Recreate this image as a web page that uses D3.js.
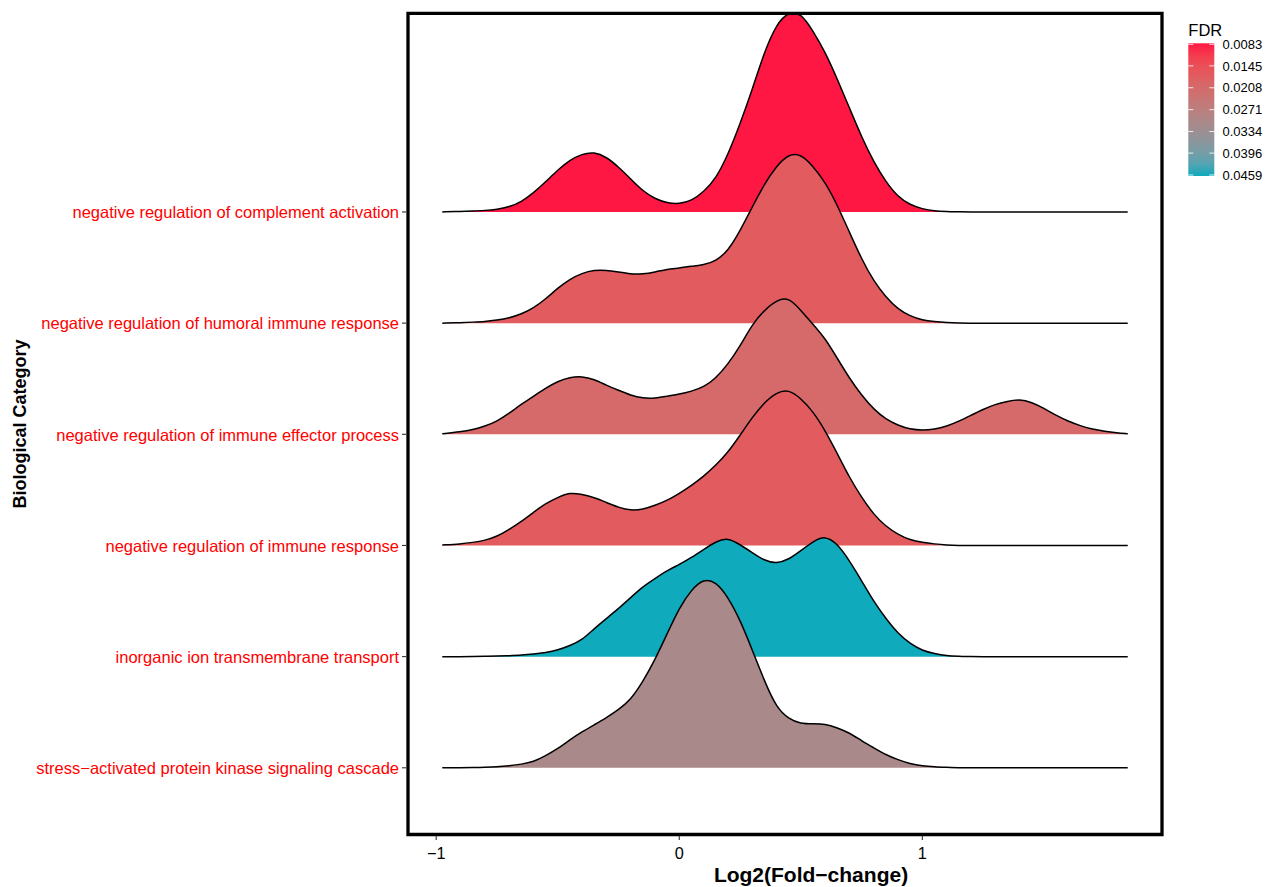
<!doctype html>
<html>
<head>
<meta charset="utf-8">
<script src="https://cdnjs.cloudflare.com/ajax/libs/d3/7.8.5/d3.min.js"></script>
<style>
  body { margin: 0; background: #fff; }
  svg text { font-family: "Liberation Sans", Arial, Helvetica, sans-serif; }
  path.ridge-line { fill: none; stroke: #000; stroke-width: 1.5; }
  path.panel { fill: none; stroke: #000; stroke-width: 3.3; }
  line.tick { stroke: #333; stroke-width: 1.1; }
  text.y-label { fill: #ff0000; font-size: 16.5px; text-anchor: end; }
  text.x-label { fill: #000; font-size: 16.3px; text-anchor: middle; }
  text.axis-title { fill: #000; font-weight: bold; text-anchor: middle; }
  text.legend-label { fill: #000; font-size: 13px; }
  line.legend-tick { stroke: #fff; stroke-opacity: 0.85; stroke-width: 1; }
</style>
</head>
<body>
<svg id="chart" width="1266" height="887"></svg>
<script>
// categories, top to bottom
var categories = [
  "negative regulation of complement activation",
  "negative regulation of humoral immune response",
  "negative regulation of immune effector process",
  "negative regulation of immune response",
  "inorganic ion transmembrane transport",
  "stress\u2212activated protein kinase signaling cascade"
];
var fdr = [0.0083, 0.0170, 0.0205, 0.0172, 0.0459, 0.0309];

var fdrBreaks = [0.0083, 0.0145, 0.0208, 0.0271, 0.0334, 0.0396, 0.0459];
var xTicks = [-1, 0, 1];

// log2 fold-change grid the densities were read at
var fcGrid = [-0.975, -0.9, -0.85, -0.8, -0.75, -0.7, -0.65, -0.6, -0.55, -0.5,
  -0.45, -0.4, -0.35, -0.3, -0.25, -0.2, -0.15, -0.1, -0.05, 0,
  0.05, 0.1, 0.15, 0.2, 0.25, 0.3, 0.35, 0.4, 0.45, 0.5,
  0.55, 0.6, 0.65, 0.7, 0.75, 0.8, 0.85, 0.9, 0.95, 1.0,
  1.05, 1.1, 1.15, 1.2, 1.25, 1.3, 1.35, 1.4, 1.45, 1.5,
  1.55, 1.6, 1.65, 1.7, 1.75, 1.8, 1.845];

var densComplement = [0, 0.005, 0.01, 0.015, 0.025, 0.05, 0.10, 0.19, 0.30, 0.42,
  0.52, 0.58, 0.60, 0.55, 0.45, 0.33, 0.21, 0.13, 0.09, 0.08,
  0.11, 0.20, 0.33, 0.57, 0.88, 1.22, 1.60, 1.88, 2.00, 1.99,
  1.81, 1.60, 1.33, 1.04, 0.75, 0.50, 0.30, 0.15, 0.07, 0.03,
  0.01, 0.005, 0, 0, 0, 0, 0, 0, 0, 0,
  0, 0, 0, 0, 0, 0, 0];
var densHumoral = [0, 0.005, 0.01, 0.015, 0.03, 0.05, 0.09, 0.15, 0.24, 0.35,
  0.44, 0.50, 0.53, 0.53, 0.51, 0.49, 0.49, 0.51, 0.54, 0.55,
  0.57, 0.58, 0.62, 0.72, 0.92, 1.16, 1.39, 1.57, 1.69, 1.69,
  1.57, 1.41, 1.18, 0.91, 0.64, 0.42, 0.26, 0.14, 0.07, 0.03,
  0.015, 0.005, 0, 0, 0, 0, 0, 0, 0, 0,
  0, 0, 0, 0, 0, 0, 0];
var densEffector = [0.005, 0.025, 0.045, 0.08, 0.13, 0.21, 0.30, 0.38, 0.46, 0.53,
  0.57, 0.58, 0.55, 0.49, 0.44, 0.39, 0.36, 0.36, 0.38, 0.40,
  0.43, 0.47, 0.56, 0.70, 0.88, 1.10, 1.24, 1.34, 1.37, 1.24,
  1.10, 0.96, 0.76, 0.56, 0.39, 0.25, 0.15, 0.09, 0.05, 0.04,
  0.05, 0.08, 0.13, 0.19, 0.25, 0.30, 0.33, 0.35, 0.32, 0.26,
  0.19, 0.13, 0.085, 0.05, 0.03, 0.015, 0.005];
var densImmune = [0.005, 0.015, 0.03, 0.05, 0.09, 0.16, 0.24, 0.33, 0.42, 0.48,
  0.53, 0.51, 0.48, 0.43, 0.38, 0.35, 0.36, 0.40, 0.45, 0.52,
  0.60, 0.69, 0.80, 0.93, 1.10, 1.28, 1.43, 1.53, 1.56, 1.47,
  1.34, 1.15, 0.92, 0.68, 0.48, 0.31, 0.19, 0.11, 0.055, 0.03,
  0.015, 0.005, 0, 0, 0, 0, 0, 0, 0, 0,
  0, 0, 0, 0, 0, 0, 0];
var densIon = [0, 0, 0, 0.003, 0.005, 0.01, 0.015, 0.025, 0.04, 0.065,
  0.11, 0.165, 0.28, 0.38, 0.48, 0.59, 0.70, 0.78, 0.86, 0.92,
  0.99, 1.07, 1.15, 1.19, 1.12, 1.04, 0.96, 0.93, 0.97, 1.06,
  1.15, 1.21, 1.13, 0.96, 0.76, 0.55, 0.38, 0.23, 0.13, 0.06,
  0.03, 0.01, 0.005, 0, 0, 0, 0, 0, 0, 0,
  0, 0, 0, 0, 0, 0, 0];
var densStress = [0, 0, 0.003, 0.005, 0.01, 0.02, 0.035, 0.06, 0.12, 0.19,
  0.28, 0.36, 0.43, 0.50, 0.58, 0.68, 0.86, 1.08, 1.34, 1.60,
  1.78, 1.89, 1.86, 1.71, 1.48, 1.18, 0.87, 0.60, 0.49, 0.44,
  0.44, 0.44, 0.40, 0.35, 0.27, 0.20, 0.13, 0.08, 0.04, 0.02,
  0.01, 0.005, 0, 0, 0, 0, 0, 0, 0, 0,
  0, 0, 0, 0, 0, 0, 0];

var densities = [densComplement, densHumoral, densEffector, densImmune, densIon, densStress];

var svg = d3.select("#chart");
var panel = {left: 408, right: 1162, top: 13.3, bottom: 834.5};

var x = d3.scaleLinear().domain([-1.116, 1.986]).range([panel.left, panel.right]);
// discrete rows sit at 1..n from the bottom, ggplot-style 0.6 expansion below
var y = d3.scaleLinear().domain([0.4, 7.787]).range([panel.bottom, panel.top]);
var rowStep = y(1) - y(2);
var heightScale = d3.scaleLinear().domain([0, 1]).range([0, rowStep * 0.9]);

var lowColor = "#FF1744", highColor = "#10AABD";
var fill = d3.scaleLinear()
  .domain([d3.min(fdrBreaks), d3.max(fdrBreaks)])
  .range([lowColor, highColor])
  .interpolate(d3.interpolateLab);

function baseY(i) { return y(categories.length - i); }

// ridges, top row first so lower rows overlap it
var ridges = svg.append("g");
categories.forEach(function(cat, i) {
  var pts = fcGrid.map(function(v, k) { return [v, densities[i][k]]; });
  var b = baseY(i);
  var area = d3.area()
    .x(function(d) { return x(d[0]); })
    .y0(b)
    .y1(function(d) { return b - heightScale(d[1]); })
    .curve(d3.curveBasis);
  var line = d3.line()
    .x(function(d) { return x(d[0]); })
    .y(function(d) { return b - heightScale(d[1]); })
    .curve(d3.curveBasis);
  ridges.append("path").attr("d", area(pts)).attr("fill", fill(fdr[i]));
  ridges.append("path").attr("class", "ridge-line").attr("d", line(pts));
});

// panel border
svg.append("path").attr("class", "panel")
  .attr("d", "M" + panel.left + "," + panel.top + "H" + panel.right + "V" + panel.bottom + "H" + panel.left + "Z");

// y axis
var yAxis = svg.append("g");
categories.forEach(function(cat, i) {
  var b = baseY(i);
  yAxis.append("line").attr("class", "tick")
    .attr("x1", panel.left - 6).attr("x2", panel.left - 1.6).attr("y1", b).attr("y2", b);
  yAxis.append("text").attr("class", "y-label")
    .attr("x", 399).attr("y", b).attr("dy", "0.38em").text(cat);
});

// x axis
var xAxis = svg.append("g");
xTicks.forEach(function(t) {
  xAxis.append("line").attr("class", "tick")
    .attr("x1", x(t)).attr("x2", x(t)).attr("y1", panel.bottom + 1.6).attr("y2", panel.bottom + 5.5);
  xAxis.append("text").attr("class", "x-label")
    .attr("x", x(t)).attr("y", 859).text(t < 0 ? "\u2212" + Math.abs(t) : t);
});

svg.append("text").attr("class", "axis-title")
  .attr("x", 811).attr("y", 882)
  .style("font-size", "21px").text("Log2(Fold\u2212change)");

svg.append("text").attr("class", "axis-title")
  .attr("transform", "translate(26," + (panel.top + panel.bottom) / 2 + ") rotate(-90)")
  .style("font-size", "18px").text("Biological Category");

// legend
var leg = {x: 1188.3, top: 43.3, w: 26, h: 132.7};
var grad = svg.append("defs").append("linearGradient")
  .attr("id", "fdrGrad").attr("x1", 0).attr("y1", 0).attr("x2", 0).attr("y2", 1);
d3.range(0, 1.0001, 0.1).forEach(function(t) {
  grad.append("stop").attr("offset", t)
    .attr("stop-color", d3.interpolateLab(lowColor, highColor)(t));
});
svg.append("text").attr("x", leg.x).attr("y", 35.7)
  .style("font-size", "16.5px").text("FDR");
svg.append("rect").attr("x", leg.x).attr("y", leg.top)
  .attr("width", leg.w).attr("height", leg.h).attr("fill", "url(#fdrGrad)");

var legY = d3.scaleLinear().domain([d3.min(fdrBreaks), d3.max(fdrBreaks)])
  .range([leg.top + 1, leg.top + leg.h - 1]);
fdrBreaks.forEach(function(v) {
  var ty = legY(v);
  svg.append("line").attr("class", "legend-tick")
    .attr("x1", leg.x).attr("x2", leg.x + 5).attr("y1", ty).attr("y2", ty);
  svg.append("line").attr("class", "legend-tick")
    .attr("x1", leg.x + leg.w - 5).attr("x2", leg.x + leg.w).attr("y1", ty).attr("y2", ty);
  svg.append("text").attr("class", "legend-label")
    .attr("x", 1222.5).attr("y", ty).attr("dy", "0.36em").text(v.toFixed(4));
});
</script>
</body>
</html>
